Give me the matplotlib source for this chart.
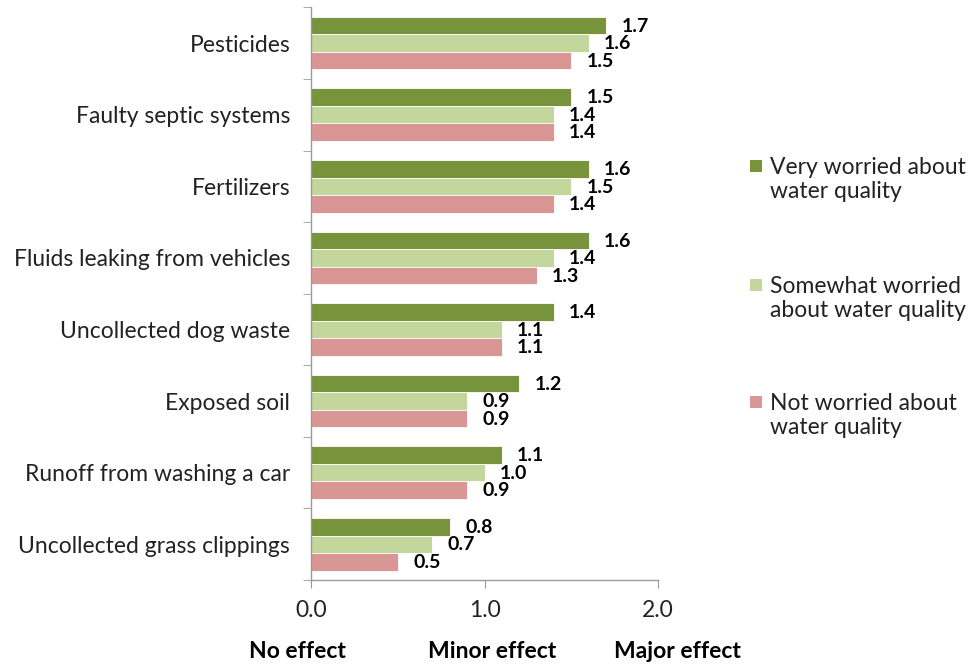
import numpy as np
import matplotlib.pyplot as plt
from matplotlib.patches import Rectangle

plt.rcParams['font.family'] = ['Lato', 'DejaVu Sans']

# Average rated effect on water quality, by level of worry
categories = ["Pesticides", "Faulty septic systems", "Fertilizers",
              "Fluids leaking from vehicles", "Uncollected dog waste",
              "Exposed soil", "Runoff from washing a car",
              "Uncollected grass clippings"]
very_worried = [1.7, 1.5, 1.6, 1.6, 1.4, 1.2, 1.1, 0.8]
somewhat_worried = [1.6, 1.4, 1.5, 1.4, 1.1, 0.9, 1.0, 0.7]
not_worried = [1.5, 1.4, 1.4, 1.3, 1.1, 0.9, 0.9, 0.5]
series_labels = ["Very worried about\nwater quality",
                 "Somewhat worried\nabout water quality",
                 "Not worried about\nwater quality"]
colors = ["#77933C", "#C3D69B", "#D99694"]
x_ticks = [0.0, 1.0, 2.0]
effect_labels = ["No effect", "Minor effect", "Major effect"]

FS = 16.5

fig = plt.figure(figsize=(9.72, 6.66), dpi=100)
ax = fig.add_axes([0.320, 0.129, 0.357, 0.860])

y = np.arange(len(categories))
h = 0.245
series = [very_worried, somewhat_worried, not_worried]
for i, (vals, col) in enumerate(zip(series, colors)):
    ypos = y + (i - 1) * h
    ax.barh(ypos, vals, height=h, color=col, edgecolor="white", linewidth=0.6)
    for yy, v in zip(ypos, vals):
        ax.annotate(f"{v:.1f}", (v, yy), xytext=(11, -0.5), textcoords="offset points",
                    ha="left", va="center", fontsize=14, fontweight="bold",
                    color="black")

ax.set_xlim(0, 2)
ax.set_ylim(len(categories) - 0.5, -0.5)
ax.set_xticks(x_ticks)
ax.set_xticklabels([f"{t:.1f}" for t in x_ticks], fontsize=FS, color="#222222")
ax.set_yticks(y)
ax.set_yticklabels(categories, fontsize=FS, color="#222222")
ax.set_yticks(np.arange(-0.5, len(categories)), minor=True)
ax.tick_params(axis="y", which="major", length=0, pad=15)
ax.tick_params(axis="y", which="minor", length=6, direction="out", color="#999999")
ax.tick_params(axis="x", length=6, direction="out", color="#999999", pad=8)
for s in ["top", "right"]:
    ax.spines[s].set_visible(False)
for s in ["left", "bottom"]:
    ax.spines[s].set_color("#999999")
    ax.spines[s].set_linewidth(1.0)

# Scale meaning below the tick labels
for xpos, txt in zip([297, 492, 677], effect_labels):
    fig.text(xpos / 972, 1 - 651 / 666, txt, ha="center", va="center",
             fontsize=FS, fontweight="bold")

# Legend: square beside the first line of each two-line label
W, H = 972, 666
for col, lab, ytop in zip(colors, series_labels, [166, 285, 402]):
    fig.patches.append(Rectangle((750 / W, 1 - (ytop + 6) / H), 12 / W, 12 / H,
                                 transform=fig.transFigure, facecolor=col,
                                 edgecolor="none"))
    fig.text(770 / W, 1 - (ytop + 13.5) / H, lab, ha="left", va="center",
             fontsize=FS, color="#222222", linespacing=1.2)

fig.savefig("out.png", dpi=100)
